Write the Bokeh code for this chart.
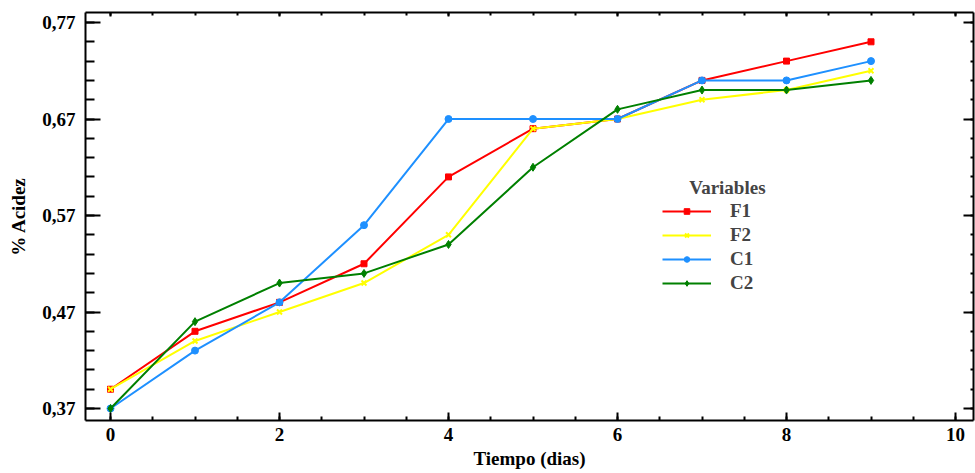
import numpy as np
from bokeh.plotting import figure
from bokeh.models import (LinearAxis, FixedTicker, CustomJSTickFormatter, Range1d,
                          Legend, LegendItem, Label)
from bokeh.embed import file_html
from bokeh.resources import INLINE

# ---- data ----
dias = [0, 1, 2, 3, 4, 5, 6, 7, 8, 9]
F1 = [0.39, 0.45, 0.48, 0.52, 0.61, 0.66, 0.67, 0.71, 0.73, 0.75]
F2 = [0.39, 0.44, 0.47, 0.50, 0.55, 0.66, 0.67, 0.69, 0.70, 0.72]
C1 = [0.37, 0.43, 0.48, 0.56, 0.67, 0.67, 0.67, 0.71, 0.71, 0.73]
C2 = [0.37, 0.46, 0.50, 0.51, 0.54, 0.62, 0.68, 0.70, 0.70, 0.71]
series_names = ["F1", "F2", "C1", "C2"]
x_ticks = [0, 2, 4, 6, 8, 10]
y_ticks = [0.37, 0.47, 0.57, 0.67, 0.77]

FONT = "Liberation Serif"

p = figure(width=975, height=473,
           x_range=Range1d(-0.296, 10.213), y_range=Range1d(0.35757, 0.78037),
           output_backend="svg", toolbar_location=None,
           min_border_left=85, min_border_right=2, min_border_top=12, min_border_bottom=53)
p.xgrid.visible = False
p.ygrid.visible = False
p.outline_line_color = None
p.background_fill_color = "white"
p.border_fill_color = "white"

x_minor = list(np.arange(-0.0, 10.01, 0.5))
y_minor = list(np.round(np.arange(0.37, 0.7801, 0.02), 3))
xt = FixedTicker(ticks=x_ticks, minor_ticks=x_minor)
yt = FixedTicker(ticks=y_ticks, minor_ticks=y_minor)
yfmt = CustomJSTickFormatter(code="return tick.toFixed(2).replace('.', ',');")
blank = CustomJSTickFormatter(code="return '';")

# bottom axis
xa = p.xaxis[0]
xa.ticker = xt
xa.axis_label = "Tiempo (dias)"
# left axis
ya = p.yaxis[0]
ya.ticker = yt
ya.formatter = yfmt
ya.axis_label = "% Acidez"

for ax in (xa, ya):
    ax.axis_line_width = 2
    ax.major_tick_line_width = 2
    ax.minor_tick_line_width = 2
    ax.major_tick_out = 0
    ax.minor_tick_out = 0
    ax.major_label_text_font = FONT
    ax.major_label_text_font_style = "bold"
    ax.major_label_text_font_size = "19px"
    ax.axis_label_text_font = FONT
    ax.axis_label_text_font_style = "bold"
    ax.axis_label_text_font_size = "19px"
    ax.major_label_text_color = "black"
    ax.axis_label_text_color = "black"

xa.major_tick_in = 8
xa.minor_tick_in = 4
xa.major_label_standoff = 7
xa.axis_label_standoff = 4
ya.major_tick_in = 15
ya.minor_tick_in = 9
ya.major_label_standoff = 10
ya.axis_label_standoff = 10

top = LinearAxis(ticker=xt, formatter=blank)
right = LinearAxis(ticker=yt, formatter=blank)
for ax, mj, mn in ((top, 4, 3), (right, 10, 3)):
    ax.axis_line_width = 2
    ax.major_tick_line_width = 2
    ax.minor_tick_line_width = 2
    ax.major_tick_out = 0
    ax.minor_tick_out = 0
    ax.major_tick_in = mj
    ax.minor_tick_in = mn
    ax.major_label_text_font_size = "0px"
    ax.major_label_standoff = 0
p.add_layout(top, "above")
p.add_layout(right, "right")

# ---- series ----
styles = [
    (F1, "#FF0000", "square", 6, 1),
    (F2, "#FFFF00", "x", 7, 2),
    (C1, "#1E90FF", "circle", 7, 1),
    (C2, "#008000", "diamond", 8, 1),
]
items = []
for name, (vals, col, mk, sz, lw) in zip(series_names, styles):
    lr = p.line(dias, vals, line_color=col, line_width=2)
    sr = p.scatter(dias, vals, marker=mk, size=sz, fill_color=col, line_color=col, line_width=lw)
    items.append(LegendItem(label=name, renderers=[lr, sr]))

leg = Legend(items=items, location=(577, 126), padding=0, margin=0,
             border_line_color=None, background_fill_alpha=0,
             glyph_width=49, glyph_height=14, label_height=21, spacing=2,
             label_standoff=19, label_text_font=FONT, label_text_font_style="bold",
             label_text_font_size="19px")
p.add_layout(leg, "center")

p.add_layout(Label(x=7.30, y=0.599, text="Variables", text_align="center",
                   text_baseline="middle", text_font=FONT, text_font_style="bold",
                   text_font_size="19px"))

open("out.html", "w").write(file_html(p, INLINE))
